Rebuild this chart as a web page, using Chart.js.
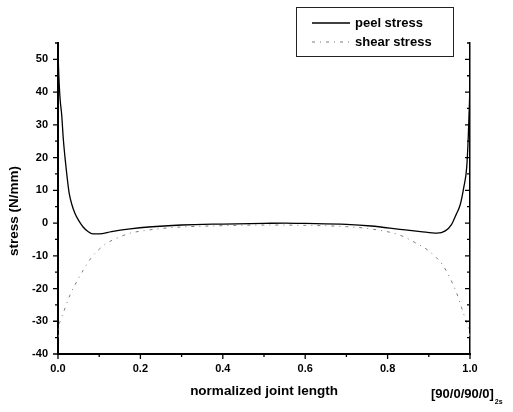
<!DOCTYPE html>
<html>
<head>
<meta charset="utf-8">
<script src="https://cdn.jsdelivr.net/npm/chart.js@4/dist/chart.umd.min.js"></script>
<style>
html,body{margin:0;padding:0;background:#fff;}
#wrap{width:513px;height:412px;}
</style>
</head>
<body>
<div id="wrap"><canvas id="c" width="513" height="412"></canvas></div>
<script>
// ---- data ----
const peelX = [0, 0.002, 0.005, 0.009, 0.013, 0.017, 0.021, 0.027, 0.034, 0.041, 0.05, 0.061, 0.072, 0.085, 0.1, 0.13, 0.175, 0.22, 0.3, 0.4, 0.5, 0.55, 0.6, 0.7, 0.76, 0.83, 0.88, 0.92, 0.94, 0.955, 0.966, 0.976, 0.985, 0.992, 0.996, 1.0];
const peelY = [52, 45, 38, 33, 25.5, 20, 15.3, 9.2, 5.5, 3, 0.8, -1.2, -2.5, -3.3, -3.3, -2.6, -1.8, -1.2, -0.6, -0.3, -0.1, 0, -0.1, -0.4, -0.9, -1.9, -2.6, -3.1, -2.4, -0.5, 2.5, 5.5, 11, 17, 27, 42];
const shearX = [0, 0.003, 0.006, 0.011, 0.017, 0.029, 0.045, 0.061, 0.082, 0.1, 0.118, 0.145, 0.175, 0.21, 0.256, 0.3, 0.4, 0.5, 0.6, 0.7, 0.76, 0.83, 0.87, 0.898, 0.917, 0.932, 0.944, 0.956, 0.968, 0.98, 0.99, 0.996, 1.0];
const shearY = [-35, -31, -29.8, -28, -26, -22, -18, -14.4, -10.4, -8, -6.2, -4.5, -3.1, -2.3, -1.6, -1.2, -0.8, -0.6, -0.7, -1.1, -1.8, -3.7, -6.2, -8.3, -10.4, -12.5, -15, -18, -21.5, -26, -29.8, -32, -35];
const seriesNames = ['peel stress', 'shear stress'];
const xTicks = [0, 0.2, 0.4, 0.6, 0.8, 1.0];
const xTickLabels = ['0.0', '0.2', '0.4', '0.6', '0.8', '1.0'];
const xMinorTicks = [0.1, 0.3, 0.5, 0.7, 0.9];
const yTicks = [-40, -30, -20, -10, 0, 10, 20, 30, 40, 50];
const yTickLabels = ['-40', '-30', '-20', '-10', '0', '10', '20', '30', '40', '50'];
const yMinorTicks = [-35, -25, -15, -5, 5, 15, 25, 35, 45, 55];
const xTitle = 'normalized joint length';
const yTitle = 'stress (N/mm)';
const layupText = '[90/0/90/0]';
const layupSub = '2s';

const FF = '"Liberation Sans", Arial, sans-serif';

const decor = {
  id: 'decor',
  afterDraw(chart) {
    const ctx = chart.ctx;
    const xs = chart.scales.x, ys = chart.scales.y;
    const L = chart.chartArea.left, R = chart.chartArea.right, B = chart.chartArea.bottom;
    ctx.save();
    ctx.strokeStyle = '#000';
    ctx.lineWidth = 1.3;
    ctx.beginPath();
    // y ticks left (outward) and right (inward)
    yTicks.forEach(v => { const p = ys.getPixelForValue(v); ctx.moveTo(L - 5, p); ctx.lineTo(L, p); ctx.moveTo(R, p); ctx.lineTo(R - 5, p); });
    yMinorTicks.forEach(v => { const p = ys.getPixelForValue(v); ctx.moveTo(L - 3, p); ctx.lineTo(L, p); ctx.moveTo(R, p); ctx.lineTo(R - 3, p); });
    // x ticks (outward)
    xTicks.forEach(v => { const p = xs.getPixelForValue(v); ctx.moveTo(p, B); ctx.lineTo(p, B + 5); });
    xMinorTicks.forEach(v => { const p = xs.getPixelForValue(v); ctx.moveTo(p, B); ctx.lineTo(p, B + 3); });
    ctx.stroke();

    ctx.fillStyle = '#000';
    // axis titles
    ctx.font = 'bold 13.5px ' + FF;
    ctx.textAlign = 'center';
    ctx.textBaseline = 'middle';
    ctx.fillText(xTitle, 264, 391);
    ctx.save();
    ctx.translate(14, 211);
    ctx.rotate(-Math.PI / 2);
    ctx.fillText(yTitle, 0, 0);
    ctx.restore();

    // layup annotation
    ctx.textAlign = 'left';
    ctx.textBaseline = 'alphabetic';
    ctx.font = 'bold 13px ' + FF;
    ctx.fillText(layupText, 431, 398);
    const w = ctx.measureText(layupText).width;
    ctx.font = 'bold 7px ' + FF;
    ctx.fillText(layupSub, 431 + w + 1, 404);

    // legend
    ctx.lineWidth = 1;
    ctx.strokeStyle = '#222';
    ctx.strokeRect(296.5, 7.5, 157, 49);
    const ds = chart.data.datasets;
    const rows = [23, 42];
    ds.forEach((d, i) => {
      ctx.save();
      ctx.strokeStyle = d.borderColor;
      ctx.lineWidth = d.borderWidth;
      ctx.setLineDash(d.borderDash || []);
      ctx.beginPath();
      ctx.moveTo(312, rows[i]);
      ctx.lineTo(350, rows[i]);
      ctx.stroke();
      ctx.restore();
      ctx.font = 'bold 13px ' + FF;
      ctx.textBaseline = 'middle';
      ctx.textAlign = 'left';
      ctx.fillStyle = '#000';
      ctx.fillText(d.label, 355, rows[i]);
    });
    ctx.restore();
  }
};

new Chart(document.getElementById('c'), {
  type: 'line',
  data: {
    datasets: [
      {
        label: seriesNames[0],
        data: peelX.map((x, i) => ({ x: x, y: peelY[i] })),
        borderColor: '#000',
        borderWidth: 1.3,
        pointRadius: 0,
        fill: false,
        cubicInterpolationMode: 'monotone'
      },
      {
        label: seriesNames[1],
        data: shearX.map((x, i) => ({ x: x, y: shearY[i] })),
        borderColor: '#7a7a7a',
        borderWidth: 1,
        borderDash: [3, 5, 1, 5],
        pointRadius: 0,
        fill: false,
        cubicInterpolationMode: 'monotone'
      }
    ]
  },
  options: {
    responsive: false,
    animation: false,
    devicePixelRatio: 1,
    layout: { padding: { top: 43, right: 43, left: 0, bottom: 0 } },
    plugins: { legend: { display: false }, tooltip: { enabled: false } },
    scales: {
      x: {
        type: 'linear',
        min: 0, max: 1,
        afterBuildTicks: s => { s.ticks = xTicks.map(v => ({ value: v })); },
        afterFit: s => { s.height = 58; },
        ticks: {
          callback: (v, i) => xTickLabels[i],
          font: { family: FF, size: 11, weight: 'bold' },
          color: '#000', padding: 8, maxRotation: 0, autoSkip: false
        },
        grid: { display: false, drawTicks: false },
        border: { display: true, color: '#000', width: 2 }
      },
      y: {
        type: 'linear',
        min: -40, max: 55,
        afterBuildTicks: s => { s.ticks = yTicks.map(v => ({ value: v })); },
        afterFit: s => { s.width = 58; },
        ticks: {
          callback: (v, i) => yTickLabels[i],
          font: { family: FF, size: 11, weight: 'bold' },
          color: '#000', padding: 10, autoSkip: false
        },
        grid: { display: false, drawTicks: false },
        border: { display: true, color: '#000', width: 2 }
      },
      y2: {
        type: 'linear',
        position: 'right',
        min: -40, max: 55,
        afterFit: s => { s.width = 0; },
        ticks: { display: false },
        grid: { display: false, drawTicks: false },
        border: { display: true, color: '#000', width: 1.5 }
      }
    }
  },
  plugins: [decor]
});
</script>
</body>
</html>
